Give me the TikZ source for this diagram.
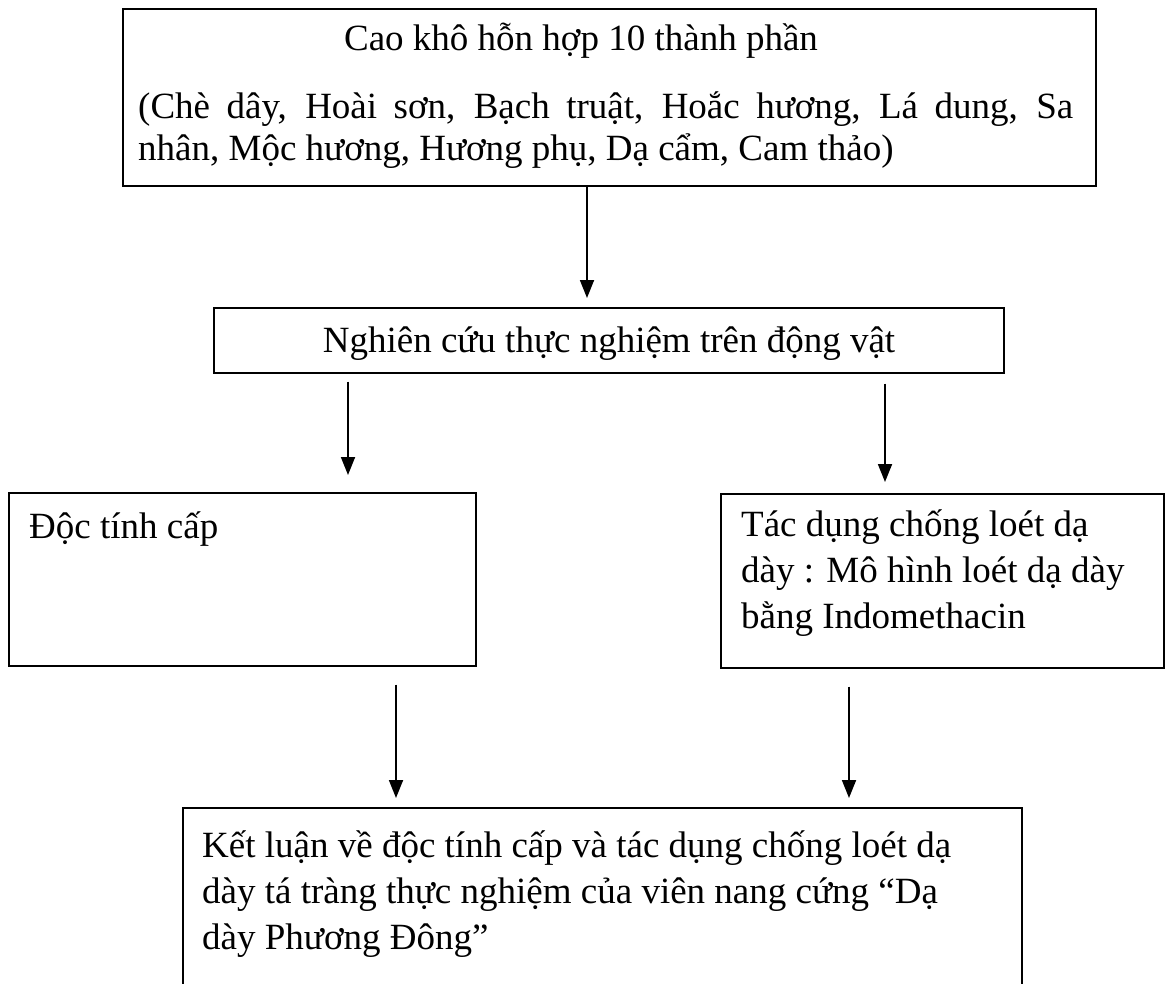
\documentclass[tikz,border=0pt]{standalone}
\usepackage{fontspec}
\setmainfont{Liberation Serif}
\usetikzlibrary{calc,arrows.meta}
\tikzset{
  box/.style={draw, rectangle, inner sep=0pt, anchor=north west, line width=1.5pt},
  txt/.style={inner sep=0pt, font=\fontsize{37}{44}\selectfont},
  arr/.style={line width=1.8pt, -{Triangle[length=18pt,width=14pt]}}
}
\begin{document}
\begin{tikzpicture}[x=1pt,y=-1pt]
\useasboundingbox (0,0) rectangle (1166,983);
\fill[white] (0,0) rectangle (1166,983);
\clip (0,0) rectangle (1166,983);
% boxes
\node[box, minimum width=973pt, minimum height=177pt] (topbox) at (122,8) {};
\node[box, minimum width=790pt, minimum height=65pt] (midbox) at (213,307) {};
\node[box, minimum width=467pt, minimum height=173pt] (lbox) at (8,492) {};
\node[box, minimum width=443pt, minimum height=174pt] (rbox) at (720,493) {};
\node[box, minimum width=839pt, minimum height=200pt] (botbox) at (182,807) {};
% texts
\node[txt, anchor=base] (t1) at (581,50) {Cao khô hỗn hợp 10 thành phần};
\node[txt, anchor=base west] (t2) at (138,118) {\makebox[935pt][s]{(Chè dây, Hoài sơn, Bạch truật, Hoắc hương, Lá dung, Sa}};
\node[txt, anchor=base west] (t3) at (138,160) {nhân, Mộc hương, Hương phụ, Dạ cẩm, Cam thảo)};
\node[txt, anchor=base] (m1) at (609,352) {Nghiên cứu thực nghiệm trên động vật};
\node[txt, anchor=base west] (l1) at (29,538) {Độc tính cấp};
\node[txt, anchor=base west] (r1) at (741,536) {Tác dụng chống loét dạ};
\node[txt, anchor=base west] (r2) at (741,582) {dày : Mô hình loét dạ dày};
\node[txt, anchor=base west] (r3) at (741,628) {bằng Indomethacin};
\node[txt, anchor=base west] (b1) at (202,857) {Kết luận về độc tính cấp và tác dụng chống loét dạ};
\node[txt, anchor=base west] (b2) at (202,903) {dày tá tràng thực nghiệm của viên nang cứng “Dạ};
\node[txt, anchor=base west] (b3) at (202,949) {dày Phương Đông”};
% arrow columns
\coordinate (c1) at (587,0);
\coordinate (c2) at (348,0);
\coordinate (c3) at (885,0);
\coordinate (c4) at (396,0);
\coordinate (c5) at (849,0);
% arrows
\draw[arr] (topbox.south -| c1) -- ($(midbox.north -| c1)+(0,-9)$);
\draw[arr] ($(midbox.south -| c2)+(0,8)$) -- ($(lbox.north -| c2)+(0,-17)$);
\draw[arr] ($(midbox.south -| c3)+(0,10)$) -- ($(rbox.north -| c3)+(0,-11)$);
\draw[arr] ($(lbox.south -| c4)+(0,18)$) -- ($(botbox.north -| c4)+(0,-9)$);
\draw[arr] ($(rbox.south -| c5)+(0,18)$) -- ($(botbox.north -| c5)+(0,-9)$);
\end{tikzpicture}
\end{document}
